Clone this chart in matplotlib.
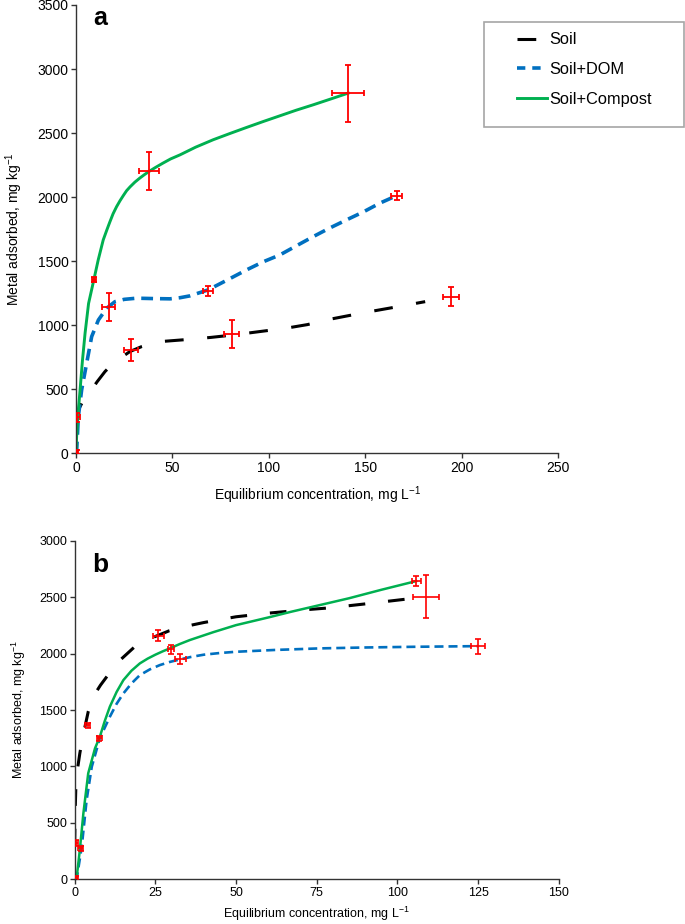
import matplotlib.pyplot as plt
from matplotlib.patches import Rectangle
from matplotlib.lines import Line2D

plt.rcParams['font.family'] = ['Liberation Sans', 'DejaVu Sans']
plt.rcParams['mathtext.default'] = 'regular'
plt.rcParams['lines.scale_dashes'] = False

# ---- panel a : fitted curves
a_soil_x = [0.5, 1.2, 4, 7.3, 11, 15, 19, 22.8, 28, 34, 43.5, 59, 70, 81.6, 95, 109, 120, 130, 150, 165, 181]
a_soil_y = [250, 338, 420, 481, 560, 638, 700, 742, 795, 833, 872, 890, 905, 924, 950, 977, 1005, 1042, 1100, 1140, 1184]
a_dom_x = [0, 0.3, 1.2, 2.9, 5.5, 8.1, 11.6, 15.9, 20.2, 25, 31.4, 40, 48.7, 54, 59, 68.5, 78, 88.4, 97, 105.7, 114, 123, 131, 140.3, 149, 157.5, 166]
a_dom_y = [0, 12, 286, 495, 703, 911, 1041, 1133, 1184, 1202, 1211, 1208, 1206, 1215, 1229, 1276, 1350, 1432, 1495, 1549, 1618, 1692, 1755, 1823, 1885, 1953, 2010]
a_comp_x = [0, 0.3, 1, 2.1, 3.3, 4.7, 6.5, 9.3, 11.5, 14.1, 16, 17.5, 19.2, 21, 22.8, 24.5, 26.2, 28, 30.5, 33, 35.4, 37.8, 41, 45, 49, 53.9, 62, 71.1, 80, 88.4, 97, 105.7, 114, 123, 132, 141.1]
a_comp_y = [0, 130, 300, 495, 720, 940, 1170, 1359, 1510, 1666, 1745, 1805, 1870, 1925, 1972, 2012, 2050, 2080, 2117, 2148, 2175, 2200, 2230, 2265, 2298, 2330, 2390, 2448, 2498, 2544, 2590, 2635, 2678, 2721, 2766, 2812]

# ---- panel a : measured points with error bars
a_pts_x = [0.3, 0.3, 28.5, 80.7, 194.3, 16.9, 68.4, 166.2, 9.3, 37.8, 141.1]
a_pts_y = [10, 280, 807, 930, 1223, 1141, 1268, 2010, 1354, 2201, 2810]
a_pts_xerr = [0.6, 1.5, 3.5, 4.0, 4.0, 3.5, 2.8, 2.8, 1.2, 5.1, 8.2]
a_pts_yerr = [15, 35, 87, 110, 75, 108, 39, 35, 20, 148, 222]

# ---- panel b : fitted curves
b_soil_x = [0, 0.15, 0.4, 1.0, 1.6, 2.5, 4.2, 6, 8, 10.1, 14, 18.4, 24, 29.3, 35, 40, 50, 60, 70, 79, 90, 104.7]
b_soil_y = [300, 600, 850, 1000, 1116, 1260, 1485, 1630, 1720, 1801, 1940, 2055, 2140, 2202, 2245, 2275, 2326, 2358, 2385, 2405, 2440, 2489]
b_dom_x = [0, 0.6, 2.2, 3.7, 5.3, 7.8, 10.9, 13, 15.1, 17.6, 20.2, 23.3, 26.4, 29.5, 32.6, 36, 40, 45, 50, 62, 76, 90, 105, 125.1]
b_dom_y = [0, 0, 289, 702, 997, 1250, 1440, 1555, 1647, 1735, 1809, 1860, 1898, 1926, 1948, 1970, 1990, 2005, 2016, 2032, 2046, 2054, 2060, 2066]
b_comp_x = [0, 0.6, 1.6, 2.7, 4.2, 6.3, 7.8, 9.3, 10.9, 13, 15.1, 17.6, 20.2, 22.6, 25, 27.3, 29.5, 32.6, 35.7, 43, 50, 60, 67, 76, 85, 95, 105.8]
b_comp_y = [0, 9, 260, 584, 939, 1160, 1263, 1400, 1529, 1660, 1765, 1848, 1913, 1955, 1990, 2020, 2046, 2085, 2120, 2190, 2252, 2320, 2370, 2430, 2490, 2565, 2642]

# ---- panel b : measured points with error bars
b_pts_x = [0.4, 0.4, 1.9, 4.0, 7.6, 25.9, 29.8, 32.7, 108.8, 105.8, 124.9]
b_pts_y = [8, 324, 274, 1364, 1249, 2158, 2037, 1951, 2503, 2642, 2066]
b_pts_xerr = [0.5, 0.6, 0.8, 0.8, 0.8, 1.65, 1.0, 1.65, 4.1, 1.4, 2.2]
b_pts_yerr = [20, 25, 25, 24, 24, 47, 37, 47, 192, 47, 66]

series_names = ['Soil', 'Soil+DOM', 'Soil+Compost']
black = '#000000'
blue = '#0070C0'
green = '#00B050'
red = '#FF0000'

fig = plt.figure(figsize=(6.85, 9.24), dpi=100)
ax_a = fig.add_axes([0.111, 0.5094, 0.704, 0.4852])
ax_b = fig.add_axes([0.109, 0.0484, 0.7066, 0.3664])


def style_axes(ax, fs):
    for s in ['top', 'right']:
        ax.spines[s].set_visible(False)
    for s in ['left', 'bottom']:
        ax.spines[s].set_color('#333333')
        ax.spines[s].set_linewidth(1.0)
    ax.tick_params(direction='out', length=3.5, width=1.0, color='#333333', labelsize=fs, pad=2)


# panel a
ax_a.plot(a_soil_x, a_soil_y, color=black, lw=2.2, dashes=(13.5, 17))
ax_a.plot(a_dom_x, a_dom_y, color=blue, lw=2.6, dashes=(8.5, 5))
ax_a.plot(a_comp_x, a_comp_y, color=green, lw=2.1)
ax_a.errorbar(a_pts_x, a_pts_y, xerr=a_pts_xerr, yerr=a_pts_yerr, fmt='none',
              ecolor=red, elinewidth=1.3, capsize=2.5, capthick=1.3, zorder=5)
ax_a.set_xlim(0, 250)
ax_a.set_ylim(0, 3500)
ax_a.set_xticks([0, 50, 100, 150, 200, 250])
ax_a.set_yticks(range(0, 3501, 500))
style_axes(ax_a, 10)
ax_a.set_xlabel('Equilibrium concentration, mg L$^{-1}$', fontsize=10, labelpad=7)
ax_a.set_ylabel('Metal adsorbed, mg kg$^{-1}$', fontsize=10, labelpad=9)
ax_a.text(0.05, 0.97, 'a', transform=ax_a.transAxes, fontsize=18, fontweight='bold',
          ha='center', va='center')

# panel b
ax_b.plot(b_soil_x, b_soil_y, color=black, lw=2.2, dashes=(12, 16.5))
ax_b.plot(b_dom_x, b_dom_y, color=blue, lw=1.9, dashes=(6.5, 3.6))
ax_b.plot(b_comp_x, b_comp_y, color=green, lw=1.8)
ax_b.errorbar(b_pts_x, b_pts_y, xerr=b_pts_xerr, yerr=b_pts_yerr, fmt='none',
              ecolor=red, elinewidth=1.2, capsize=2.5, capthick=1.2, zorder=5)
ax_b.set_xlim(0, 150)
ax_b.set_ylim(0, 3000)
ax_b.set_xticks([0, 25, 50, 75, 100, 125, 150])
ax_b.set_yticks(range(0, 3001, 500))
style_axes(ax_b, 9)
ax_b.set_xlabel('Equilibrium concentration, mg L$^{-1}$', fontsize=9, labelpad=4)
ax_b.set_ylabel('Metal adsorbed, mg kg$^{-1}$', fontsize=9, labelpad=8)
ax_b.text(0.052, 0.928, 'b', transform=ax_b.transAxes, fontsize=19, fontweight='bold',
          ha='center', va='center')

# legend (box drawn separately so it keeps the wide frame of the original)
handles = [Line2D([], [], color=black, lw=2.2, dashes=(13.5, 17)),
           Line2D([], [], color=blue, lw=2.6, dashes=(6, 5)),
           Line2D([], [], color=green, lw=2.1)]
fig.legend(handles, series_names, loc='upper left', bbox_to_anchor=(0.7543, 0.965),
           frameon=False, fontsize=11.8, handlelength=1.85, handletextpad=0.15,
           labelspacing=0.9, borderpad=0, borderaxespad=0)
fig.patches.append(Rectangle((484 / 685, 1 - 127 / 924), 200 / 685, 105 / 924,
                             transform=fig.transFigure, fill=False,
                             edgecolor='#A6A6A6', lw=1.2))

fig.savefig('out.png', dpi=100)
